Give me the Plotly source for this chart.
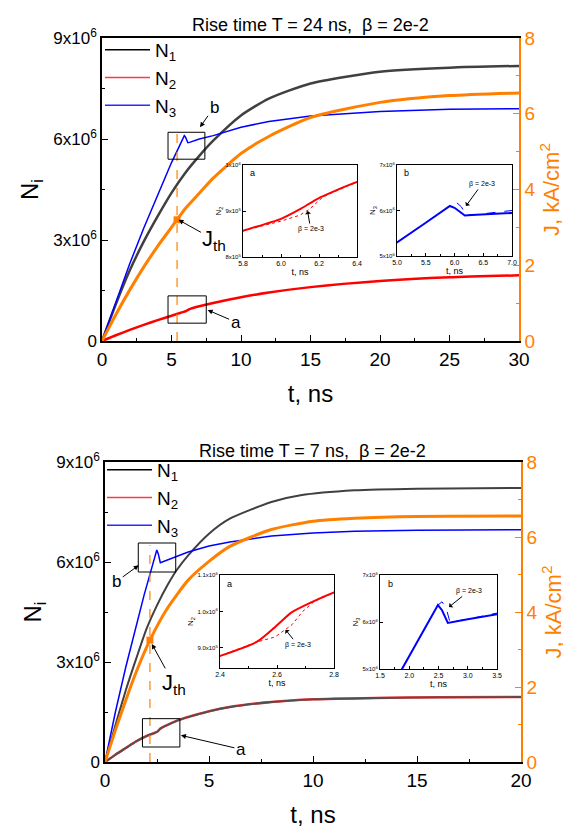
import plotly.graph_objects as go

# ---------------- DATA ----------------
# Top panel: rise time 24 ns
t_top_n1 = [0, 1, 2, 3, 4, 5, 6, 7, 8, 10, 12, 15, 20, 25, 30]
n1_top = [0, 1.1e6, 2.1e6, 2.95e6, 3.7e6, 4.4e6, 5.0e6, 5.5e6, 5.95e6, 6.7e6, 7.2e6, 7.65e6, 8.0e6, 8.12e6, 8.17e6]

t_top_n2 = [0, 1, 2, 3, 4, 5, 5.8, 6.0, 6.1, 6.19, 6.4, 7, 8, 10, 12, 15, 20, 25, 30]
n2_top = [0, 0.17e6, 0.33e6, 0.48e6, 0.62e6, 0.75e6, 0.857e6, 0.883e6, 0.904e6, 0.926e6, 0.963e6,
          1.03e6, 1.13e6, 1.3e6, 1.44e6, 1.6e6, 1.78e6, 1.89e6, 1.95e6]

t_top_n3 = [0, 1, 2, 3, 4, 5, 5.5, 5.92, 6.0, 6.1, 6.18, 6.3, 7, 8, 10, 12, 15, 20, 25, 30]
n3_top = [0, 1.15e6, 2.3e6, 3.35e6, 4.35e6, 5.3e6, 5.73e6, 6.1e6, 6.06e6, 5.97e6, 5.89e6, 5.9e6,
          6.0e6, 6.1e6, 6.35e6, 6.52e6, 6.68e6, 6.82e6, 6.88e6, 6.9e6]

t_top_j = [0, 1, 2, 3, 4, 5, 6, 7, 8, 10, 12, 15, 20, 25, 30]
j_top = [0, 0.7, 1.35, 1.95, 2.5, 3.0, 3.5, 3.9, 4.3, 4.95, 5.4, 5.9, 6.3, 6.48, 6.55]

t_th_top = 5.4
j_th_top = 3.2

# top insets: beta = 2e-3 curves (dashed)
t_top_n2_b3 = [5.8, 6.0, 6.1, 6.15, 6.22, 6.27, 6.4]
n2_top_b3 = [0.857e6, 0.878e6, 0.891e6, 0.904e6, 0.93e6, 0.94e6, 0.963e6]
t_top_n3_b3 = [5.0, 5.5, 5.92, 6.04, 6.12, 6.2, 6.3, 7.0]
n3_top_b3 = [5.3e6, 5.73e6, 6.1e6, 6.17e6, 6.08e6, 5.9e6, 5.9e6, 6.0e6]

# Bottom panel: rise time 7 ns
t_bot_n1 = [0, 0.5, 1, 1.5, 2, 2.5, 3, 3.45, 4, 5, 6, 8, 9.4, 12, 15, 20]
n1_bot = [0, 1.1e6, 2.15e6, 3.1e6, 4.0e6, 4.7e6, 5.3e6, 5.76e6, 6.2e6, 6.85e6, 7.3e6, 7.8e6,
          8.0e6, 8.15e6, 8.2e6, 8.22e6]

t_bot_n2 = [0, 0.5, 1, 1.5, 2, 2.4, 2.53, 2.59, 2.65, 2.72, 2.8, 3.5, 4, 5, 6, 8, 10, 13, 16, 20]
n2_bot = [0, 0.22e6, 0.42e6, 0.62e6, 0.78e6, 0.878e6, 0.917e6, 0.955e6, 0.997e6, 1.025e6, 1.052e6,
          1.25e6, 1.35e6, 1.52e6, 1.65e6, 1.8e6, 1.88e6, 1.92e6, 1.94e6, 1.95e6]

t_bot_n3 = [0, 0.5, 1, 1.5, 1.876, 2.2, 2.49, 2.56, 2.66, 3.0, 3.5, 4, 5, 6, 8, 10, 12, 15, 20]
n3_bot = [0, 1.5e6, 2.85e6, 4.1e6, 5.0e6, 5.72e6, 6.36e6, 6.25e6, 5.98e6, 6.06e6, 6.19e6, 6.3e6,
          6.48e6, 6.6e6, 6.78e6, 6.87e6, 6.92e6, 6.95e6, 6.97e6]

t_bot_j = [0, 0.5, 1, 1.5, 2.16, 3, 4, 5, 6, 8, 10, 12, 15, 20]
j_bot = [0, 0.85, 1.65, 2.4, 3.25, 4.1, 4.85, 5.35, 5.75, 6.2, 6.42, 6.5, 6.55, 6.56]

t_th_bot = 2.16
j_th_bot = 3.25

t_bot_n2_b3 = [2.4, 2.533, 2.593, 2.653, 2.69, 2.73, 2.8]
n2_bot_b3 = [0.878e6, 0.917e6, 0.93e6, 0.964e6, 1.0e6, 1.027e6, 1.052e6]
t_bot_n3_b3 = [1.876, 2.2, 2.49, 2.56, 2.63, 2.7, 2.8, 3.0, 3.5]
n3_bot_b3 = [5.0e6, 5.72e6, 6.36e6, 6.43e6, 6.3e6, 5.98e6, 6.02e6, 6.06e6, 6.19e6]

legend_names = ["N<sub>1</sub>", "N<sub>2</sub>", "N<sub>3</sub>"]

# ---------------- STYLE ----------------
FONT = "Liberation Sans, Arial, sans-serif"
ORANGE = "#ff8000"
GRAY = "#404040"
RED = "#ff0000"
BLUE = "#0000ff"
legend_colors = ["#000000", "#ff3b3b", "#2b2bff"]

fig = go.Figure()

def sc(x, y, xa, ya, color, width, dash=None, shape="spline"):
    fig.add_trace(go.Scatter(x=x, y=y, xaxis=xa, yaxis=ya, mode="lines",
                             line=dict(color=color, width=width, dash=dash, shape=shape, smoothing=0.6),
                             showlegend=False, hoverinfo="skip"))

# legend entries (thin lines, like the reference)
for lg, xa, ya in (("legend", "x", "y"), ("legend2", "x2", "y3")):
    for nm, col in zip(legend_names, legend_colors):
        fig.add_trace(go.Scatter(x=[None], y=[None], xaxis=xa, yaxis=ya, mode="lines", name=nm,
                                 line=dict(color=col, width=1.5), legend=lg, showlegend=True))

# top main
sc(t_top_n1, n1_top, "x", "y", GRAY, 2.5)
sc(t_top_n2, n2_top, "x", "y", RED, 2.5)
sc(t_top_n3, n3_top, "x", "y", BLUE, 1.5, shape="linear")
sc([t_th_top, t_th_top], [0, 6.3e6], "x", "y", ORANGE, 1.2, dash="dash", shape="linear")
sc(t_top_j, j_top, "x", "y2", ORANGE, 3)
fig.add_trace(go.Scatter(x=[t_th_top], y=[j_th_top], xaxis="x", yaxis="y2", mode="markers",
                         marker=dict(symbol="square", color=ORANGE, size=7), showlegend=False))

# bottom main
sc(t_bot_n1, n1_bot, "x2", "y3", GRAY, 2)
sc(t_bot_n2, n2_bot, "x2", "y3", "#ff3030", 2.5)
sc(t_bot_n2, n2_bot, "x2", "y3", "#505050", 1.8)
sc(t_bot_n3, n3_bot, "x2", "y3", BLUE, 1.5, shape="linear")
sc([t_th_bot, t_th_bot], [0, 6.5e6], "x2", "y3", ORANGE, 1.2, dash="dash", shape="linear")
sc(t_bot_j, j_bot, "x2", "y4", ORANGE, 3)
fig.add_trace(go.Scatter(x=[t_th_bot], y=[j_th_bot], xaxis="x2", yaxis="y4", mode="markers",
                         marker=dict(symbol="square", color=ORANGE, size=7), showlegend=False))

# insets
sc(t_top_n2_b3, n2_top_b3, "x3", "y5", RED, 1, dash="dot", shape="linear")
sc(t_top_n2, n2_top, "x3", "y5", RED, 2)
sc(t_top_n3_b3, n3_top_b3, "x4", "y6", BLUE, 1, dash="dash", shape="linear")
sc(t_top_n3, n3_top, "x4", "y6", BLUE, 2, shape="linear")
sc(t_bot_n2_b3, n2_bot_b3, "x5", "y7", RED, 1, dash="dot", shape="linear")
sc(t_bot_n2, n2_bot, "x5", "y7", RED, 2)
sc(t_bot_n3_b3, n3_bot_b3, "x6", "y8", BLUE, 1, dash="dash", shape="linear")
sc(t_bot_n3, n3_bot, "x6", "y8", BLUE, 2, shape="linear")

W, H = 571, 833
OFF = 8  # page body margin

def px(a, b):
    return [(a - OFF) / W, (b - OFF) / W]
def py(top, bot):
    return [1 - (bot - OFF) / H, 1 - (top - OFF) / H]
def pxx(a):
    return (a - OFF) / W
def pyy(a):
    return 1 - (a - OFF) / H

main_x = dict(showline=True, linecolor="black", linewidth=1.5, mirror=True, ticks="inside",
              ticklen=6, tickcolor="black", tickfont=dict(size=19, color="black"), showgrid=False,
              zeroline=False, dtick=5, automargin=False,
              minor=dict(dtick=2.5, ticks="inside", ticklen=3, tickcolor="black"),
              title=dict(text="t, ns", font=dict(size=24), standoff=17))
main_yl = dict(showline=True, linecolor="black", linewidth=1.5, ticks="inside", ticklen=6,
               tickcolor="black", tickfont=dict(size=17), showgrid=False, zeroline=False,
               range=[0, 9e6], tickmode="array", tickvals=[0, 3e6, 6e6, 9e6], automargin=False,
               ticktext=["0", "3x10<sup>6</sup>", "6x10<sup>6</sup>", "9x10<sup>6</sup>"],
               minor=dict(tickvals=[1.5e6, 4.5e6, 7.5e6], ticks="inside", ticklen=3, tickcolor="black"),
               title=dict(text="N<sub>i</sub>", font=dict(size=24), standoff=8))
main_yr = dict(showline=True, linecolor=ORANGE, linewidth=1.5, ticks="inside", ticklen=6,
               tickcolor=ORANGE, tickfont=dict(size=19, color=ORANGE), showgrid=False, zeroline=False,
               range=[0, 8], dtick=2, side="right", automargin=False,
               minor=dict(dtick=1, ticks="inside", ticklen=3, tickcolor=ORANGE),
               title=dict(text="J, kA/cm<sup>2</sup>", font=dict(size=22, color=ORANGE), standoff=8))

def inset_x(dom, anchor, rng, dt, mdt):
    return dict(domain=dom, anchor=anchor, range=rng, dtick=dt, showline=True, linecolor="black",
                linewidth=1, mirror=True, ticks="inside", ticklen=3, tickcolor="black",
                tickfont=dict(size=7), showgrid=False, zeroline=False, tickformat=".1f",
                automargin=False,
                minor=dict(dtick=mdt, ticks="inside", ticklen=2, tickcolor="black"),
                title=dict(text="t, ns", font=dict(size=9), standoff=2))

def inset_y(dom, anchor, rng, vals, texts, title):
    return dict(domain=dom, anchor=anchor, range=rng, tickmode="array", tickvals=vals, ticktext=texts,
                showline=True, linecolor="black", linewidth=1, mirror=True, ticks="inside", ticklen=3,
                tickcolor="black", tickfont=dict(size=6), showgrid=False, zeroline=False,
                automargin=False,
                title=dict(text=title, font=dict(size=8), standoff=2))

fig.update_layout(
    width=W, height=H, margin=dict(l=0, r=0, t=0, b=0, autoexpand=False),
    paper_bgcolor="white", plot_bgcolor="white",
    font=dict(family=FONT, color="black"),
    xaxis=dict(main_x, domain=px(102, 519), anchor="y", range=[0, 30]),
    yaxis=dict(main_yl, domain=py(38, 341), anchor="x"),
    yaxis2=dict(main_yr, overlaying="y", anchor="x"),
    xaxis2=dict(main_x, domain=px(105, 521), anchor="y3", range=[0, 20]),
    yaxis3=dict(main_yl, domain=py(462, 762), anchor="x2"),
    yaxis4=dict(main_yr, overlaying="y3", anchor="x2"),
    xaxis3=inset_x(px(243, 357), "y5", [5.8, 6.4], 0.2, 0.1),
    yaxis5=inset_y(py(165, 257), "x3", [8e5, 1e6], [8e5, 9e5, 1e6],
                   ["8x10<sup>5</sup>", "9x10<sup>5</sup>", "1x10<sup>6</sup>"], "N<sub>2</sub>"),
    xaxis4=inset_x(px(397, 512), "y6", [5.0, 7.0], 0.5, 0.25),
    yaxis6=inset_y(py(165, 256), "x4", [5e6, 7e6], [5e6, 6e6, 7e6],
                   ["5x10<sup>6</sup>", "6x10<sup>6</sup>", "7x10<sup>6</sup>"], "N<sub>3</sub>"),
    xaxis5=inset_x(px(220, 334), "y7", [2.4, 2.8], 0.2, 0.1),
    yaxis7=inset_y(py(575, 668), "x5", [8.45e5, 1.1e6], [9e5, 1e6, 1.1e6],
                   ["9.0x10<sup>5</sup>", "1.0x10<sup>6</sup>", "1.1x10<sup>6</sup>"], "N<sub>2</sub>"),
    xaxis6=inset_x(px(380, 497), "y8", [1.5, 3.5], 0.5, 0.25),
    yaxis8=inset_y(py(575, 669), "x6", [5e6, 7e6], [5e6, 6e6, 7e6],
                   ["5x10<sup>6</sup>", "6x10<sup>6</sup>", "7x10<sup>6</sup>"], "N<sub>3</sub>"),
    legend=dict(x=pxx(100), y=pyy(31), xanchor="left", yanchor="top", bgcolor="rgba(0,0,0,0)",
                font=dict(size=19), itemwidth=45, tracegroupgap=0),
    legend2=dict(x=pxx(102), y=pyy(451), xanchor="left", yanchor="top", bgcolor="rgba(0,0,0,0)",
                 font=dict(size=19), itemwidth=45, tracegroupgap=0),
)

# boxes marking zoom regions
box = dict(type="rect", line=dict(color="black", width=1), fillcolor="rgba(0,0,0,0)")
fig.add_shape(box, xref="x", yref="y", x0=4.75, x1=7.4, y0=5.4e6, y1=6.2e6)
fig.add_shape(box, xref="x", yref="y", x0=4.75, x1=7.5, y0=0.53e6, y1=1.34e6)
fig.add_shape(box, xref="x2", yref="y3", x0=1.6, x1=3.4, y0=5.7e6, y1=6.57e6)
fig.add_shape(box, xref="x2", yref="y3", x0=1.8, x1=3.6, y0=0.45e6, y1=1.3e6)

ann = []
def arrow(text, x, y, xref, yref, ax, ay, size=17, color="black", head=2):
    ann.append(dict(text=text, x=x, y=y, xref=xref, yref=yref, ax=ax, ay=ay, showarrow=True,
                    arrowhead=head, arrowsize=1, arrowwidth=1, arrowcolor="black",
                    font=dict(size=size, color=color)))

arrow("b", 7.05, 6.35e6, "x", "y", 14, -20)
arrow("a", 7.6, 0.92e6, "x", "y", 28, 12)
arrow("J<sub>th</sub>", 5.5, j_th_top, "x", "y2", 36, 20, size=22)
arrow("b", 1.62, 5.9e6, "x2", "y3", -22, 16)
arrow("a", 3.65, 0.8e6, "x2", "y3", 60, 14)
arrow("J<sub>th</sub>", 2.25, j_th_bot - 0.1, "x2", "y4", 22, 40, size=22)

arrow("β = 2e-3", 6.14, 9.0e5, "x3", "y5", 3, 18, size=7, head=1)
arrow("β = 2e-3", 6.2, 6.1e6, "x4", "y6", 16, -22, size=7, head=1)
arrow("β = 2e-3", 2.63, 9.5e5, "x5", "y7", 12, 15, size=7, head=1)
arrow("β = 2e-3", 2.68, 6.32e6, "x6", "y8", 20, -16, size=7, head=1)

def label(text, x, y, size=9):
    ann.append(dict(text=text, x=pxx(x), y=pyy(y), xref="paper", yref="paper", showarrow=False,
                    xanchor="center", yanchor="middle", font=dict(size=size)))

label("a", 252, 173)
label("b", 406, 173)
label("a", 229, 584)
label("b", 390, 584)
label("Rise time T = 24 ns,  β = 2e-2", 310, 25, size=18)
label("Rise time T = 7 ns,  β = 2e-2", 312, 451, size=18)

fig.update_layout(annotations=ann)
fig.write_html("out.html")
